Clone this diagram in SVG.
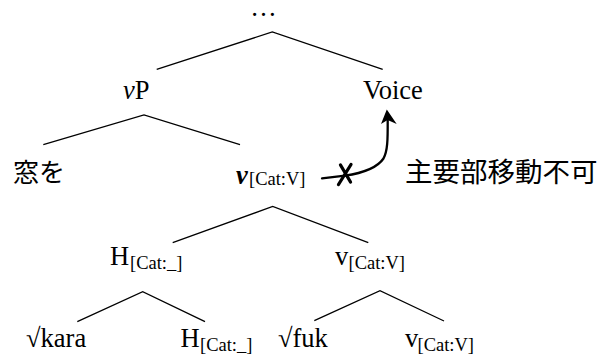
<svg xmlns="http://www.w3.org/2000/svg" width="605" height="358" viewBox="0 0 605 358">
<style>
.t{font-family:'Liberation Serif','Times New Roman','DejaVu Serif',serif;font-size:26.5px;fill:#000}
.s{font-size:18.5px}
.j{font-family:'Noto Sans CJK JP','Noto Sans CJK SC',sans-serif;font-size:26px;fill:#000}
.e{stroke:#000;stroke-width:1.3;fill:none}
.a{stroke:#000;stroke-width:2.3;fill:none;stroke-linecap:round}
.x{stroke:#000;stroke-width:3.3;fill:none;stroke-linecap:round}
</style>
<rect width="605" height="358" fill="#fff"/>
<g id="connectors">
<polyline class="e" points="156.7,69.3 272.3,32 382.7,69.3"/>
<polyline class="e" points="43.3,144.7 144,115 240,144.7"/>
<polyline class="e" points="172.7,242.7 272.7,206.5 368.3,242.7"/>
<polyline class="e" points="77.3,321.7 142.7,291.7 205,321.7"/>
<polyline class="e" points="314.3,320.7 380,290.7 444,321"/>
<path class="a" d="M322,178.3 L345,175.6 C362,173.2 377,168 383.5,158.5 C387.6,151 387.8,140 387.7,120"/>
<path d="M386.8,109.5 L396.7,124 L387.6,120 L381,124 Z" fill="#000"/>
<path class="x" d="M338.5,184.5 L351,164.5 M340.5,165 L350.5,182"/>
</g>
<g id="n-top"><text class="t" x="263.5" y="16" text-anchor="middle">…</text></g>
<g id="n-vP"><text class="t" x="123" y="99"><tspan font-style="italic">v</tspan>P</text></g>
<g id="n-voice"><text class="t" x="363" y="99">Voice</text></g>
<g id="n-mado"><text class="j" x="13" y="182">窓を</text></g>
<g id="n-v"><text class="t" x="236" y="184"><tspan font-weight="bold" font-style="italic">v</tspan><tspan class="s" x="249" y="185">[Cat:V]</tspan></text></g>
<g id="n-label"><text class="j" x="405" y="182" style="font-size:27.5px">主要部移動不可</text></g>
<g id="n-H"><text class="t" x="110" y="265">H<tspan class="s" x="130" y="268.5">[Cat:_]</tspan></text></g>
<g id="n-v2"><text class="t" x="335" y="265">v<tspan class="s" x="348.5" y="268.5">[Cat:V]</tspan></text></g>
<g id="n-kara"><text class="t" x="26" y="347">√kara</text></g>
<g id="n-H2"><text class="t" x="180.5" y="347">H<tspan class="s" x="200" y="350.5">[Cat:_]</tspan></text></g>
<g id="n-fuk"><text class="t" x="278" y="347">√fuk</text></g>
<g id="n-v3"><text class="t" x="405" y="347">v<tspan class="s" x="417.5" y="350.5">[Cat:V]</tspan></text></g>
</svg>
